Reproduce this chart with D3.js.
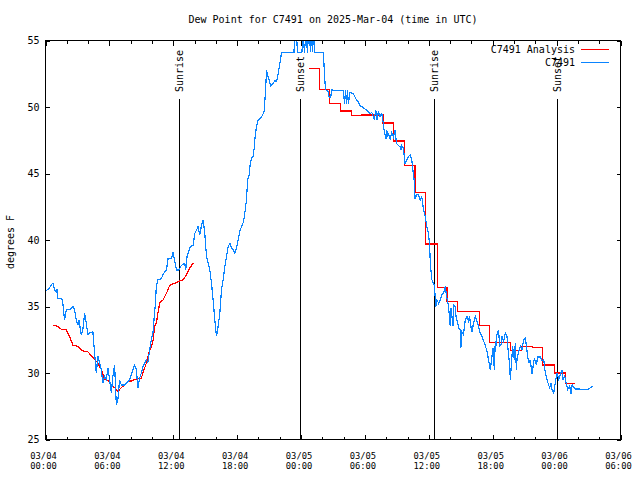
<!DOCTYPE html>
<html><head><meta charset="utf-8">
<script src="https://cdn.jsdelivr.net/npm/d3@7"></script>
<style>
body{margin:0;background:#fff;}
svg{display:block;}
text{font-family:"DejaVu Sans Mono",monospace;fill:#000;}
</style></head><body>
<svg id="chart" width="640" height="480"></svg>
<script>
const titleText = "Dew Point for C7491 on 2025-Mar-04 (time in UTC)";
const yLabel = "degrees F";
const startTime = "2025-03-04T00:00:00Z";
const endTime = "2025-03-06T06:00:00Z";
const yTicks = [25, 30, 35, 40, 45, 50, 55];
const seriesNames = ["C7491 Analysis", "C7491"];

// Observations (hours after 03/04 00:00 UTC, degrees F)
const obsHours = [0.05,0.31,0.52,0.69,0.85,1.01,1.08,1.16,1.53,1.63,1.79,1.95,2.26,2.57,2.73,2.89,3.04,3.13,3.36,3.51,3.67,3.83,3.98,4.14,4.45,4.61,4.77,4.92,5.08,5.24,5.39,5.55,5.71,5.86,6.02,6.18,6.33,6.49,6.65,6.80,6.96,7.12,7.43,7.59,7.90,8.21,8.37,8.53,8.68,8.84,9.00,9.15,9.47,9.62,9.78,9.94,10.09,10.16,10.30,10.41,10.56,10.88,11.04,11.20,11.36,11.51,11.83,11.98,12.14,12.30,12.54,12.77,13.08,13.17,13.29,13.48,13.61,13.86,14.02,14.18,14.33,14.49,14.65,14.80,14.96,15.12,15.43,15.59,15.74,15.90,16.06,16.21,16.37,16.53,16.68,16.84,17.00,17.15,17.31,17.47,17.62,17.78,17.94,18.09,18.25,18.44,18.56,18.66,18.75,18.88,18.98,19.13,19.22,19.38,19.50,19.60,19.69,19.82,19.97,20.23,20.39,20.54,20.63,20.70,20.76,20.86,21.01,21.14,21.38,21.54,21.70,21.85,22.01,22.17,23.33,23.43,23.57,23.66,24.08,24.18,24.32,24.46,24.60,24.70,24.79,24.88,24.98,25.07,25.17,25.26,26.09,26.20,26.29,26.53,26.65,26.78,26.88,27.03,27.97,28.08,28.18,28.27,28.36,28.44,28.60,28.91,29.07,29.23,29.38,29.54,29.85,30.17,30.48,30.64,30.79,30.86,31.02,31.11,31.26,31.42,31.58,31.68,31.80,31.89,31.99,32.05,32.15,32.20,32.36,32.52,32.67,32.83,32.93,32.99,33.14,33.30,33.37,33.46,33.61,33.77,33.93,34.08,34.24,34.40,34.50,34.62,34.71,34.87,35.03,35.18,35.34,35.50,35.59,35.66,35.81,35.97,36.06,36.13,36.19,36.29,36.44,36.53,36.66,36.76,36.91,37.07,37.23,37.38,37.54,37.70,37.85,38.01,38.07,38.17,38.26,38.32,38.48,38.57,38.69,38.79,38.95,39.01,39.11,39.26,39.42,39.58,39.73,39.82,39.95,40.05,40.20,40.36,40.52,40.67,40.83,40.99,41.14,41.30,41.46,41.61,41.77,41.93,42.02,42.15,42.24,42.33,42.40,42.55,42.65,42.78,42.87,43.02,43.18,43.34,43.49,43.59,43.65,43.75,43.87,44.03,44.12,44.22,44.28,44.43,44.59,44.75,44.90,45.06,45.16,45.28,45.41,45.53,45.69,45.79,45.91,46.10,46.22,46.47,46.63,46.79,46.94,47.10,47.25,47.35,47.48,47.57,47.73,47.82,47.95,48.04,48.20,48.36,48.52,48.61,48.76,48.89,49.04,49.23,49.36,49.46,49.61,49.77,50.05,50.71,50.99,51.18,51.39];
const obsValues = [36.2,36.3,36.6,36.75,36.25,36.1,36.3,35.6,35.6,35.25,34.0,34.75,34.75,35.0,34.75,34.0,33.6,34.0,32.9,33.25,34.5,33.75,32.9,33.0,33.1,31.5,30.0,31.25,30.75,30.25,29.25,29.75,29.5,30.4,29.5,28.5,29.75,30.6,27.6,28.0,29.5,29.1,29.1,29.25,29.5,30.25,30.6,30.25,28.9,29.6,30.0,30.5,31.0,30.8,31.75,32.5,33.0,33.75,35.0,36.5,37.0,37.1,37.4,37.6,37.75,38.6,38.6,39.1,38.4,37.75,37.75,38.1,38.25,37.75,38.75,39.25,39.5,39.6,40.5,40.75,41.0,40.4,41.1,41.5,40.5,38.75,37.75,36.75,35.5,34.0,32.75,33.5,34.5,36.25,37.0,38.0,38.75,39.5,39.75,39.4,39.25,39.0,39.4,40.0,40.7,41.05,41.3,41.7,42.2,43.05,44.55,44.9,45.7,46.2,46.3,46.9,47.8,48.55,49.0,49.2,49.4,49.7,50.8,51.8,52.75,52.4,52.0,51.6,51.75,52.0,51.9,52.5,53.25,54.1,54.1,55.6,55.6,54.1,54.1,55.6,54.1,55.6,54.1,55.6,55.6,54.1,55.6,54.1,55.6,54.1,54.1,52.5,51.3,51.2,50.7,50.7,51.3,51.25,51.25,50.25,51.25,50.25,51.25,50.25,51.1,51.0,50.75,50.5,50.4,50.1,49.95,49.75,49.5,49.6,49.25,49.1,49.75,49.0,49.6,49.3,49.5,49.0,48.25,47.9,47.6,48.25,47.75,48.0,47.6,48.1,47.75,48.25,47.5,47.25,47.1,47.0,46.75,47.1,46.9,45.75,46.0,46.25,46.4,46.0,45.25,44.5,43.1,43.4,43.4,43.0,43.25,42.25,42.0,41.75,41.0,40.5,39.75,38.5,37.75,37.0,36.75,36.5,35.0,35.5,35.25,35.5,35.9,36.0,36.5,35.6,35.0,33.5,34.9,34.25,33.5,35.1,35.0,34.1,33.9,33.4,33.25,31.9,33.1,32.9,34.0,34.25,33.9,34.25,33.5,33.1,33.75,34.25,33.9,33.5,33.0,32.75,32.4,32.1,31.6,31.0,30.25,31.25,31.9,30.25,32.4,32.0,32.9,33.25,32.0,32.1,32.75,32.4,33.0,32.75,31.25,30.75,29.5,30.6,32.0,31.0,32.25,30.25,31.0,31.6,32.0,31.75,32.5,32.6,32.1,31.25,30.75,31.0,29.9,30.5,31.1,30.6,31.2,31.2,30.9,31.0,30.0,29.5,29.1,28.9,29.25,28.75,28.5,29.0,29.6,30.0,29.5,29.9,30.25,29.5,29.75,29.25,28.75,29.0,28.4,29.1,28.9,28.8,28.8,28.75,28.8,28.9,29.0];

// Analysis, first run (linear)
const anaHours1 = [0.69,1.16,1.48,1.95,2.26,2.57,3.04,3.36,3.67,3.98,4.30,4.61,4.92,5.24,5.55,5.86,6.18,6.49,6.80,7.12,7.43,7.74,8.06,8.53,9.00,9.15,9.47,9.78,9.94,10.09,10.25,10.41,10.56,10.72,11.04,11.36,11.67,12.14,12.54,12.92,13.24,13.55,13.86,13.95];
const anaValues1 = [33.6,33.5,33.3,33.25,32.75,32.1,32.0,31.75,31.6,31.6,31.3,31.0,30.75,30.25,29.5,29.45,29.1,28.9,28.6,28.9,29.1,29.4,29.4,29.55,29.6,30.0,30.75,31.75,31.9,32.4,33.5,33.75,34.5,35.25,35.5,36.0,36.6,36.75,36.9,37.0,37.4,37.9,38.25,38.25];
// Analysis, second run (hourly steps)
const anaHours2 = [24.7,25.7,26.7,27.7,28.7,29.7,30.7,31.7,32.7,33.7,34.7,35.7,36.8,37.7,38.7,39.7,40.75,41.7,42.7,43.7,44.7,45.7,46.7,47.8,48.8,49.75];
const anaValues2 = [52.9,51.3,50.25,49.7,49.35,49.4,49.4,48.8,47.45,45.6,43.6,39.7,36.45,35.4,34.6,34.6,33.55,32.3,32.3,31.7,32.0,31.9,30.6,30.0,29.2,29.2];

const sunLabels = ["Sunrise", "Sunset", "Sunrise", "Sunset"];
const sunHours = [12.53, 23.9, 36.53, 48.0];

const colors = {analysis: "#ff0000", obs: "#0a84ff"};

const t0 = new Date(startTime), t1 = new Date(endTime);
const toDate = h => new Date(t0.getTime() + h * 3600e3);

const svg = d3.select("#chart").attr("shape-rendering", "crispEdges");
const L = 45.5, R = 620.5, T = 40.5, B = 439.5;
const x = d3.scaleUtc().domain([t0, t1]).range([L, R]);
const y = d3.scaleLinear().domain([25, 55]).range([B, T]);

svg.append("rect").attr("width", 640).attr("height", 480).attr("fill", "#fff");

// title
svg.append("text").attr("x", (L + R) / 2).attr("y", 23).attr("text-anchor", "middle")
  .style("font-size", "10px").text(titleText);

// y label
svg.append("text").attr("transform", "translate(13.5,242) rotate(-90)")
  .attr("text-anchor", "middle").style("font-size", "10px").text(yLabel);

// ticks
const major = d3.utcHour.every(6).range(t0, new Date(t1.getTime() + 1));
const minor = d3.utcHour.every(2).range(t0, new Date(t1.getTime() + 1))
  .filter(d => d.getUTCHours() % 6 !== 0);

function styleAxis(g) { g.select(".domain").remove(); g.selectAll("line").attr("stroke", "#000"); }

svg.append("g").attr("transform", `translate(0,${B})`)
  .call(d3.axisBottom(x).tickValues(minor).tickSize(-3).tickFormat("")).call(styleAxis);
svg.append("g").attr("transform", `translate(0,${B})`)
  .call(d3.axisBottom(x).tickValues(major).tickSize(-5).tickFormat("")).call(styleAxis);
svg.append("g").attr("transform", `translate(0,${T})`)
  .call(d3.axisTop(x).tickValues(minor).tickSize(-3).tickFormat("")).call(styleAxis);
svg.append("g").attr("transform", `translate(0,${T})`)
  .call(d3.axisTop(x).tickValues(major).tickSize(-5).tickFormat("")).call(styleAxis);

const fmtDay = d3.utcFormat("%m/%d"), fmtTime = d3.utcFormat("%H:%M");
const xl = svg.append("g").selectAll("text").data(major).join("text")
  .attr("text-anchor", "middle").style("font-size", "8.8px");
xl.append("tspan").attr("x", d => x(d) - 2).attr("y", 458.5).text(d => fmtDay(d));
xl.append("tspan").attr("x", d => x(d) - 2).attr("y", 468.5).text(d => fmtTime(d));

const ya = svg.append("g").attr("transform", `translate(${L},0)`)
  .call(d3.axisLeft(y).tickValues(yTicks).tickSize(-4).tickPadding(6).tickFormat(d3.format("d")))
  .call(styleAxis);
ya.selectAll("text").style("font-size", "10px").style("font-family", '"DejaVu Sans Mono",monospace');
svg.append("g").attr("transform", `translate(${R},0)`)
  .call(d3.axisRight(y).tickValues(yTicks).tickSize(-4).tickFormat("")).call(styleAxis);

// clip
svg.append("clipPath").attr("id", "plotclip").append("rect")
  .attr("x", L).attr("y", T).attr("width", R - L).attr("height", B - T);

// sunrise / sunset
const sg = svg.append("g");
sunHours.forEach((h, i) => {
  const xp = Math.round(x(toDate(h))) + 0.5;
  sg.append("line").attr("x1", xp).attr("x2", xp).attr("y1", 99).attr("y2", B)
    .attr("stroke", "#000");
  sg.append("text").attr("transform", `translate(${xp + 3.6},92) rotate(-90)`)
    .attr("text-anchor", "start").style("font-size", "10px").text(sunLabels[i]);
});

const data = (hs, vs) => hs.map((h, i) => [toDate(h), vs[i]]);
const lineLin = d3.line().x(d => x(d[0])).y(d => y(d[1]));
const lineStep = d3.line().x(d => x(d[0])).y(d => y(d[1])).curve(d3.curveStepAfter);

const dg = svg.append("g").attr("clip-path", "url(#plotclip)");
dg.append("path").datum(data(anaHours1, anaValues1)).attr("d", lineLin)
  .attr("fill", "none").attr("stroke", colors.analysis).attr("stroke-width", 1.2);
dg.append("path").datum(data(anaHours2, anaValues2)).attr("d", lineStep)
  .attr("fill", "none").attr("stroke", colors.analysis).attr("stroke-width", 1.2);
dg.append("path").datum(data(obsHours, obsValues)).attr("d", lineLin)
  .attr("fill", "none").attr("stroke", colors.obs).attr("stroke-width", 1.2);

// border
svg.append("rect").attr("x", L).attr("y", T).attr("width", R - L).attr("height", B - T)
  .attr("fill", "none").attr("stroke", "#000");

// legend
const lg = svg.append("g");
[colors.analysis, colors.obs].forEach((c, i) => {
  const yy = 49.5 + i * 13;
  lg.append("text").attr("x", 575).attr("y", yy + 3.5).attr("text-anchor", "end")
    .style("font-size", "10px").text(seriesNames[i]);
  lg.append("line").attr("x1", 581).attr("x2", 609).attr("y1", yy).attr("y2", yy)
    .attr("stroke", c).attr("stroke-width", 1.2);
});
</script>
</body></html>
